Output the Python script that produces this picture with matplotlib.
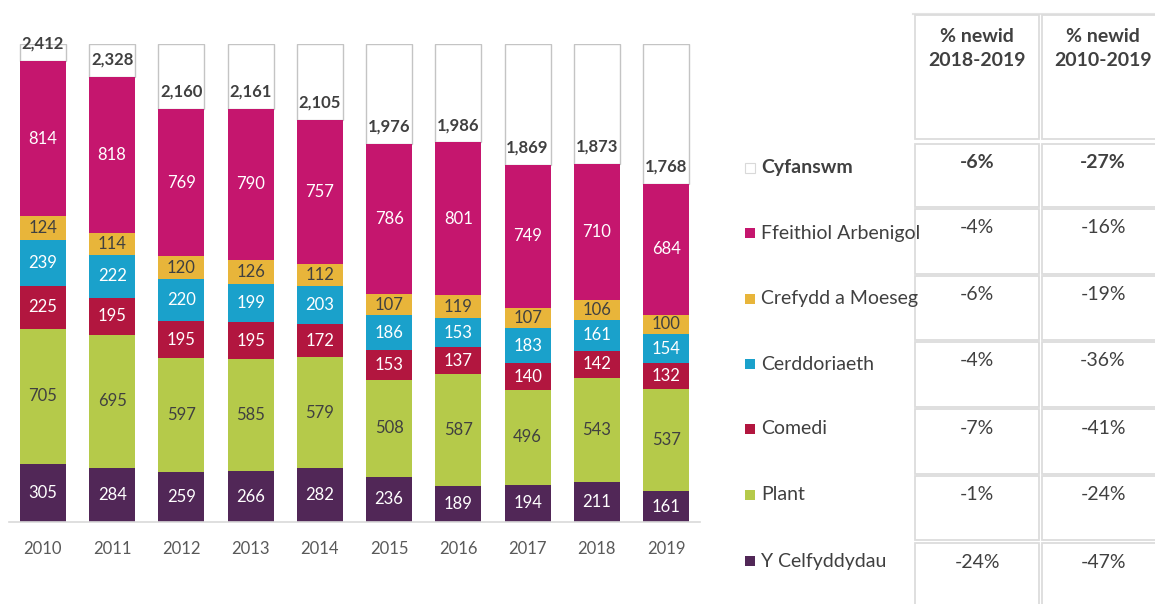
import matplotlib
matplotlib.use("Agg")
import matplotlib.pyplot as plt
from matplotlib.patches import Rectangle
import numpy as np

plt.rcParams['font.family'] = ['Lato', 'DejaVu Sans']

years = ['2010', '2011', '2012', '2013', '2014', '2015', '2016', '2017', '2018', '2019']
series_names = ['Y Celfyddydau', 'Plant', 'Comedi', 'Cerddoriaeth', 'Crefydd a Moeseg', 'Ffeithiol Arbenigol']
celfyddydau = [305, 284, 259, 266, 282, 236, 189, 194, 211, 161]
plant = [705, 695, 597, 585, 579, 508, 587, 496, 543, 537]
comedi = [225, 195, 195, 195, 172, 153, 137, 140, 142, 132]
cerddoriaeth = [239, 222, 220, 199, 203, 186, 153, 183, 161, 154]
crefydd = [124, 114, 120, 126, 112, 107, 119, 107, 106, 100]
ffeithiol = [814, 818, 769, 790, 757, 786, 801, 749, 710, 684]
totals = [2412, 2328, 2160, 2161, 2105, 1976, 1986, 1869, 1873, 1768]
scale_top = 2500

colors = ['#512757', '#B5CA4A', '#B2163F', '#1AA1CB', '#E8B53A', '#C5166E']
label_colors = ['white', '#404040', 'white', 'white', '#404040', 'white']

legend_labels = ['Cyfanswm', 'Ffeithiol Arbenigol', 'Crefydd a Moeseg', 'Cerddoriaeth', 'Comedi', 'Plant', 'Y Celfyddydau']
legend_colors = ['white', '#C5166E', '#E8B53A', '#1AA1CB', '#B2163F', '#B5CA4A', '#512757']
table_header = ['% newid\n2018-2019', '% newid\n2010-2019']
change_1819 = ['-6%', '-4%', '-6%', '-4%', '-7%', '-1%', '-24%']
change_1019 = ['-27%', '-16%', '-19%', '-36%', '-41%', '-24%', '-47%']

W, H = 1155, 604
fig = plt.figure(figsize=(W / 100, H / 100), dpi=100)

def fx(x):
    return x / W

def fy(y):
    return 1 - y / H

ax = fig.add_axes([fx(9), fy(522), fx(700) - fx(9), fy(44) - fy(522)])
x = np.arange(len(years))
series = [celfyddydau, plant, comedi, cerddoriaeth, crefydd, ffeithiol]
bw = 0.665
bottom = np.zeros(len(years))
for vals, col, lc in zip(series, colors, label_colors):
    vals = np.array(vals, dtype=float)
    ax.bar(x, vals, bw, bottom=bottom, color=col, edgecolor='none', zorder=2)
    for xi, b, v in zip(x, bottom, vals):
        ax.text(xi, b + v / 2, f'{int(v)}', ha='center', va='center', color=lc, fontsize=12, zorder=3)
    bottom += vals

tot = np.array(totals, dtype=float)
ax.bar(x, scale_top - tot, bw, bottom=tot, color='white', edgecolor='#c4c4c4', linewidth=1.0, zorder=1)
for xi, t in zip(x, tot):
    ax.text(xi, t + 90, f'{int(t):,}', ha='center', va='center', color='#404040', fontsize=12,
            fontweight='bold', zorder=4, clip_on=False)

ax.set_xlim(-0.49, 9.49)
ax.set_ylim(0, scale_top)
ax.set_xticks(x)
ax.set_xticklabels(years, fontsize=12, color='#595959')
ax.tick_params(axis='x', length=0, pad=14)
ax.set_yticks([])
for s in ['top', 'right', 'left']:
    ax.spines[s].set_visible(False)
ax.spines['bottom'].set_color('#d9d9d9')
ax.spines['bottom'].set_linewidth(1.2)

# table
cols = [(915, 1039), (1042, 1160)]
rows = [(15, 139), (144, 207), (209, 274), (276, 340), (342, 407), (409, 474), (476, 540), (543, 610)]
fig.lines.append(plt.Line2D([fx(913), fx(1155)], [fy(14), fy(14)], transform=fig.transFigure, color='#e3e3e3', lw=1.5))
for ci, (x0, x1) in enumerate(cols):
    for ri, (y0, y1) in enumerate(rows):
        fig.patches.append(Rectangle((fx(x0), fy(y1)), fx(x1 - x0), (y1 - y0) / H, transform=fig.transFigure,
                                     facecolor='white', edgecolor='#dcdcdc', linewidth=1.3, zorder=5))
    cx = 977 if ci == 0 else 1103
    fig.text(fx(cx), fy(48), table_header[ci], fontsize=14, fontweight='bold', color='#404040',
             ha='center', va='center', linespacing=1.5, zorder=6)
    vals = change_1819 if ci == 0 else change_1019
    for ri, v in enumerate(vals):
        y0 = rows[ri + 1][0]
        fig.text(fx(cx), fy(y0 + 19), v, fontsize=14, color='#404040', ha='center', va='center',
                 fontweight='bold' if ri == 0 else 'normal', zorder=6)

# legend
leg_y = [168, 233, 299, 364, 429, 495, 561]
for lab, col, yy in zip(legend_labels, legend_colors, leg_y):
    fig.patches.append(Rectangle((fx(745), fy(yy + 5)), fx(10), 10 / H, transform=fig.transFigure,
                                 facecolor=col, edgecolor='#d9d9d9' if col == 'white' else 'none',
                                 linewidth=0.8, zorder=7))
    fig.text(fx(761), fy(yy), lab, fontsize=14, color='#404040', va='center', ha='left',
             fontweight='bold' if lab == 'Cyfanswm' else 'normal', zorder=10)

fig.savefig('out.png', dpi=100)
